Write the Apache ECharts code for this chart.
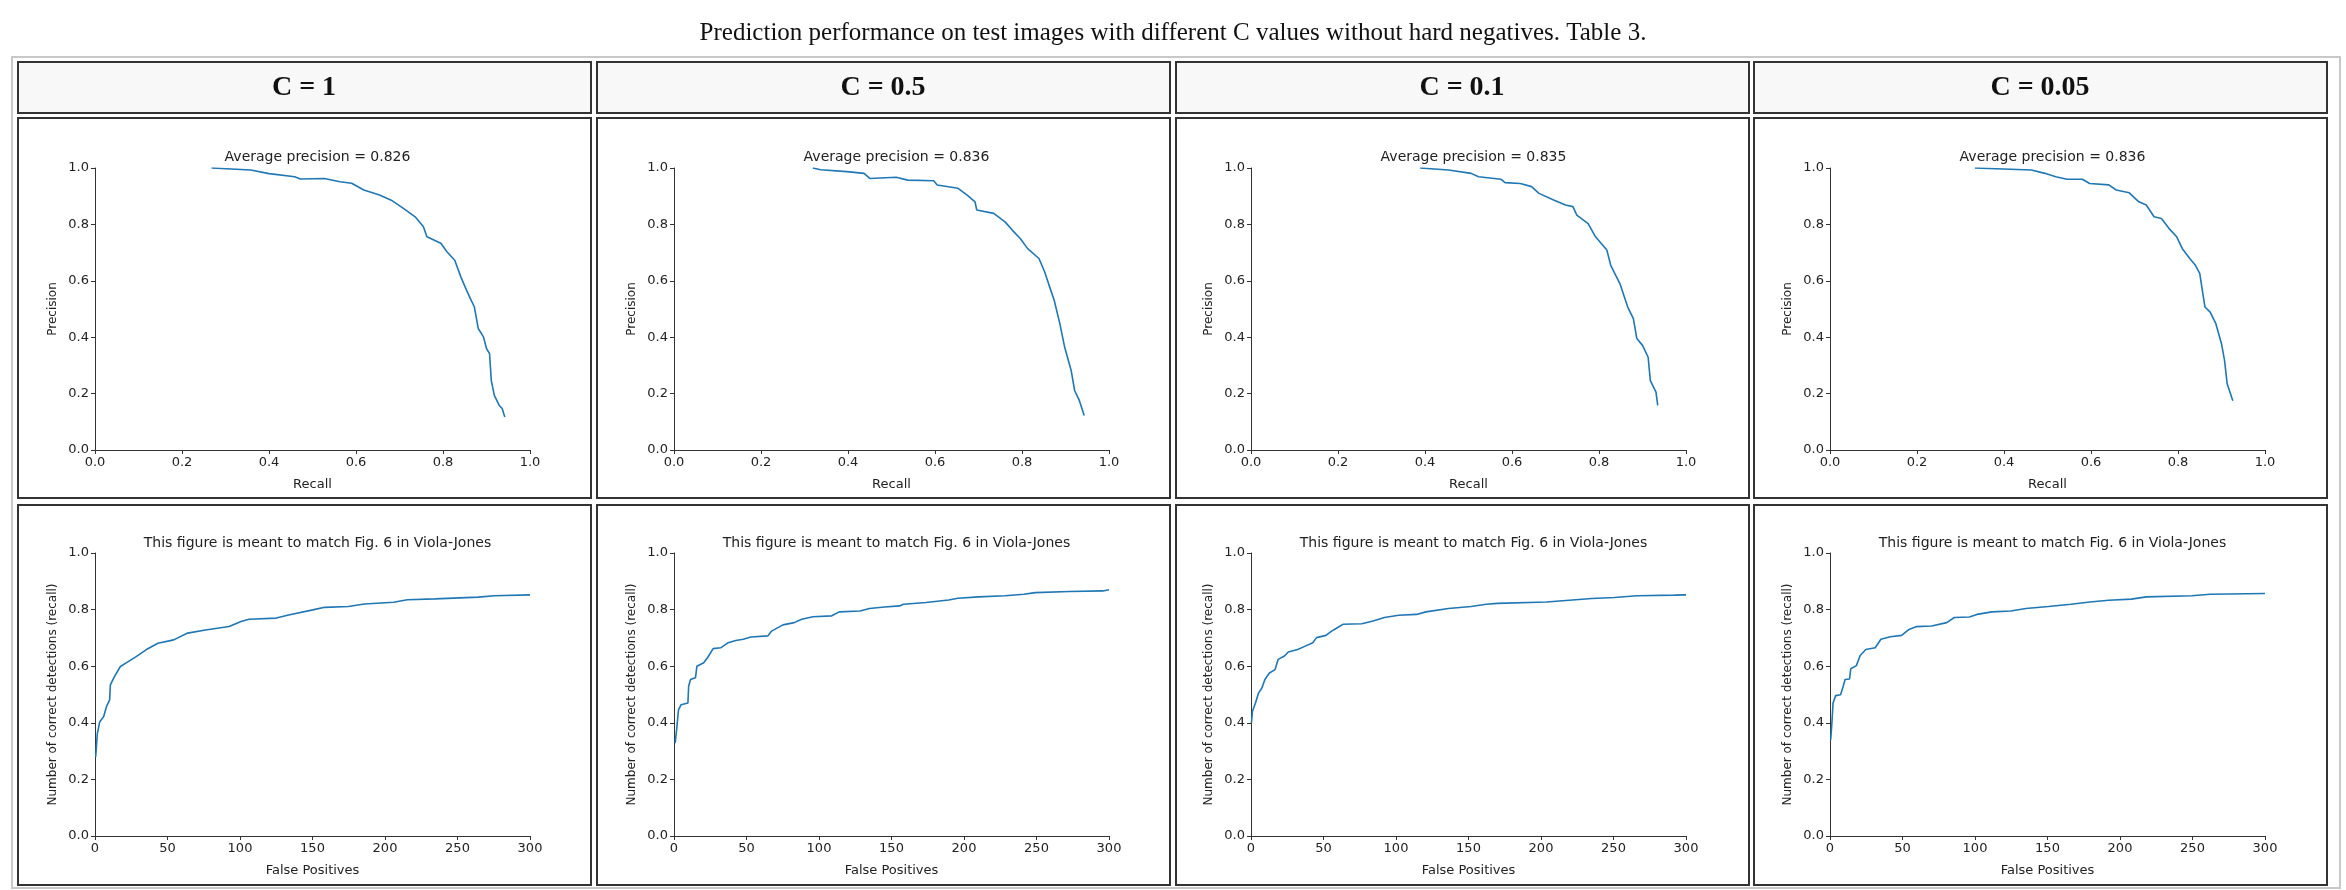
<!DOCTYPE html>
<html>
<head>
<meta charset="utf-8">
<script src="https://cdn.jsdelivr.net/npm/echarts@6/dist/echarts.min.js"></script>
<style>
  html, body { margin: 0; padding: 0; background: #fff; }
  #chart { width: 2346px; height: 890px; }
</style>
</head>
<body>
<div id="chart"></div>
<script>
// column headers and plot titles
var cValues = ['C = 1', 'C = 0.5', 'C = 0.1', 'C = 0.05'];
var apValues = ['0.826', '0.836', '0.835', '0.836'];
var pageTitle = 'Prediction performance on test images with different C values without hard negatives. Table 3.';
var rocTitle = 'This figure is meant to match Fig. 6 in Viola-Jones';

// precision-recall curves, [recall, precision]
var pr1 = [[0.268,1.0],[0.358,0.993],[0.40,0.98],[0.459,0.969],[0.472,0.961],[0.527,0.963],[0.563,0.951],[0.59,0.946],[0.618,0.922],[0.654,0.904],[0.681,0.886],[0.709,0.857],[0.736,0.827],[0.755,0.792],[0.763,0.756],[0.795,0.733],[0.809,0.703],[0.827,0.673],[0.841,0.614],[0.854,0.567],[0.863,0.537],[0.872,0.508],[0.881,0.431],[0.893,0.401],[0.900,0.360],[0.907,0.342],[0.911,0.247],[0.918,0.194],[0.929,0.159],[0.936,0.147],[0.942,0.117]];
var pr2 = [[0.319,1.0],[0.337,0.994],[0.397,0.987],[0.437,0.981],[0.450,0.963],[0.511,0.967],[0.537,0.957],[0.597,0.955],[0.605,0.94],[0.653,0.928],[0.674,0.904],[0.692,0.880],[0.696,0.851],[0.735,0.839],[0.761,0.809],[0.778,0.779],[0.796,0.750],[0.813,0.714],[0.839,0.679],[0.852,0.632],[0.861,0.590],[0.874,0.531],[0.887,0.448],[0.898,0.365],[0.913,0.282],[0.921,0.211],[0.932,0.175],[0.943,0.122]];
var pr3 = [[0.389,1.0],[0.454,0.993],[0.506,0.981],[0.523,0.969],[0.575,0.960],[0.584,0.948],[0.619,0.945],[0.645,0.934],[0.662,0.910],[0.697,0.886],[0.723,0.869],[0.740,0.863],[0.749,0.833],[0.775,0.803],[0.792,0.756],[0.818,0.709],[0.827,0.655],[0.848,0.590],[0.866,0.507],[0.879,0.466],[0.887,0.395],[0.900,0.371],[0.913,0.329],[0.918,0.246],[0.931,0.205],[0.935,0.158]];
var pr4 = [[0.333,1.0],[0.463,0.993],[0.494,0.981],[0.519,0.969],[0.545,0.960],[0.580,0.960],[0.597,0.945],[0.641,0.940],[0.658,0.922],[0.688,0.912],[0.710,0.880],[0.727,0.869],[0.745,0.827],[0.762,0.821],[0.779,0.786],[0.797,0.756],[0.810,0.714],[0.827,0.679],[0.840,0.655],[0.850,0.626],[0.857,0.555],[0.862,0.507],[0.874,0.489],[0.887,0.448],[0.900,0.377],[0.907,0.318],[0.913,0.235],[0.926,0.175]];

// detections vs false positives, [false positives, recall]
var roc1 = [[0.5,0.28],[1.6,0.362],[3.3,0.404],[6,0.422],[7.9,0.457],[10.1,0.481],[10.6,0.534],[13.4,0.563],[17.5,0.599],[22.9,0.616],[28.4,0.634],[35.2,0.658],[43.4,0.681],[54.3,0.693],[63.9,0.717],[76.2,0.728],[92.5,0.740],[100.7,0.758],[106.2,0.766],[125,0.770],[133.5,0.781],[150.2,0.799],[158.4,0.808],[174.7,0.811],[185.7,0.820],[205.9,0.826],[215.4,0.835],[234.4,0.838],[264.4,0.844],[275.3,0.849],[300,0.852]];
var roc2 = [[0.8,0.328],[1.8,0.375],[3.1,0.446],[4.9,0.464],[9.6,0.470],[10.1,0.529],[11.4,0.553],[14.8,0.559],[15.8,0.600],[20.5,0.612],[23.1,0.630],[27.0,0.662],[32.2,0.665],[37.4,0.683],[42.6,0.691],[47.8,0.695],[53.0,0.703],[64.7,0.707],[67.3,0.724],[75.1,0.746],[82.9,0.754],[88.1,0.766],[95.8,0.775],[108.8,0.778],[114.0,0.792],[128.3,0.795],[134.8,0.804],[145.2,0.809],[155.6,0.813],[158.2,0.819],[173.8,0.825],[189.4,0.834],[195.8,0.840],[210.1,0.845],[228.3,0.849],[241.3,0.854],[249.1,0.860],[272.5,0.864],[295.8,0.866],[300,0.870]];
var roc3 = [[0.3,0.399],[1,0.441],[3.1,0.470],[5.2,0.505],[7.5,0.523],[9.6,0.553],[12.7,0.576],[16.6,0.588],[18.7,0.624],[23.1,0.636],[25.7,0.650],[32.2,0.659],[37.4,0.671],[42.6,0.683],[45.2,0.701],[51.7,0.709],[55.6,0.724],[59.5,0.736],[63.4,0.748],[76.4,0.750],[84.2,0.760],[92.0,0.772],[101.8,0.780],[114.1,0.783],[120.6,0.792],[136.2,0.804],[151.8,0.811],[162.2,0.819],[170.0,0.822],[203.8,0.827],[219.4,0.833],[235.0,0.839],[250.6,0.843],[266.2,0.849],[292.2,0.851],[300,0.852]];
var roc4 = [[0.5,0.340],[1.3,0.399],[2.1,0.470],[3.9,0.496],[7.3,0.499],[9.1,0.529],[10.4,0.553],[13.5,0.555],[14.3,0.591],[18.2,0.602],[20.8,0.638],[24.7,0.659],[31.2,0.665],[35.1,0.695],[41.6,0.704],[49.4,0.709],[54.5,0.730],[59.7,0.740],[70.1,0.742],[80.5,0.754],[85.7,0.772],[96.1,0.774],[101.3,0.783],[111.7,0.792],[124.7,0.795],[135.1,0.804],[150.6,0.811],[166.2,0.819],[179.2,0.827],[192.2,0.833],[207.8,0.837],[218.2,0.845],[249.4,0.849],[262.3,0.854],[300,0.857]];

var prData = [pr1, pr2, pr3, pr4];
var rocData = [roc1, roc2, roc3, roc4];

var myChart = echarts.init(document.getElementById('chart'));

var plotLeft = [95, 674, 1251, 1830];
var cellLeft = [18, 597, 1176, 1754];
var plotW = 435;
var sans = 'DejaVu Sans';
var serif = 'Liberation Serif';

var grids = [], xAxes = [], yAxes = [], series = [], titles = [], graphics = [];

graphics.push({ type: 'rect', shape: { x: 12, y: 57, width: 2328, height: 831 },
  style: { fill: 'none', stroke: '#c8c8c8', lineWidth: 2 }, z: 0 });
graphics.push({ type: 'text', x: 1173, y: 33, style: { text: pageTitle, font: '25px ' + serif,
  fill: '#111', align: 'center', verticalAlign: 'middle' } });

for (var c = 0; c < 4; c++) {
  graphics.push({ type: 'rect', shape: { x: cellLeft[c], y: 62, width: 573, height: 51 },
    style: { fill: '#f8f8f8', stroke: '#333', lineWidth: 2 }, z: 0 });
  graphics.push({ type: 'rect', shape: { x: cellLeft[c], y: 118, width: 573, height: 380 },
    style: { fill: '#fff', stroke: '#333', lineWidth: 2 }, z: 0 });
  graphics.push({ type: 'rect', shape: { x: cellLeft[c], y: 505, width: 573, height: 380 },
    style: { fill: '#fff', stroke: '#333', lineWidth: 2 }, z: 0 });
  graphics.push({ type: 'text', x: cellLeft[c] + 286, y: 88, style: { text: cValues[c],
    font: 'bold 28px ' + serif, fill: '#111', align: 'center', verticalAlign: 'middle' } });

  for (var r = 0; r < 2; r++) {
    var idx = grids.length;
    var isPr = r === 0;
    grids.push({ left: plotLeft[c], top: isPr ? 168 : 553, width: plotW, height: isPr ? 282 : 283,
      show: true, borderColor: '#333', borderWidth: 1, backgroundColor: 'transparent' });
    titles.push({ text: isPr ? 'Average precision = ' + apValues[c] : rocTitle,
      left: plotLeft[c] + plotW / 2, top: isPr ? 145 : 531, textAlign: 'center',
      textStyle: { fontFamily: sans, fontSize: 14, fontWeight: 'normal', color: '#222' } });
    xAxes.push({ type: 'value', gridIndex: idx, min: 0, max: isPr ? 1 : 300, interval: isPr ? 0.2 : 50,
      name: isPr ? 'Recall' : 'False Positives', nameLocation: 'middle', nameGap: 28,
      nameTextStyle: { fontFamily: sans, fontSize: 13, color: '#222' },
      splitLine: { show: false },
      axisLine: { show: true, onZero: false, lineStyle: { color: '#333' } },
      axisTick: { show: true, length: 4, lineStyle: { color: '#333' } },
      axisLabel: { fontFamily: sans, fontSize: 13, color: '#222', margin: 6,
        formatter: isPr ? function (v) { return v.toFixed(1); } : '{value}' } });
    yAxes.push({ type: 'value', gridIndex: idx, min: 0, max: 1, interval: 0.2,
      name: isPr ? 'Precision' : 'Number of correct detections (recall)', nameLocation: 'middle', nameGap: 36,
      nameTextStyle: { fontFamily: sans, fontSize: 12, color: '#222' },
      splitLine: { show: false },
      axisLine: { show: true, onZero: false, lineStyle: { color: '#333' } },
      axisTick: { show: true, length: 4, lineStyle: { color: '#333' } },
      axisLabel: { fontFamily: sans, fontSize: 13, color: '#222', margin: 6,
        formatter: function (v) { return v.toFixed(1); } } });
    series.push({ type: 'line', xAxisIndex: idx, yAxisIndex: idx, showSymbol: false,
      data: isPr ? prData[c] : rocData[c],
      lineStyle: { color: '#1f77b4', width: 1.6 }, itemStyle: { color: '#1f77b4' } });
  }
}

var option = {
  animation: false,
  title: titles,
  grid: grids,
  xAxis: xAxes,
  yAxis: yAxes,
  series: series,
  graphic: graphics
};
myChart.setOption(option);
</script>
</body>
</html>
